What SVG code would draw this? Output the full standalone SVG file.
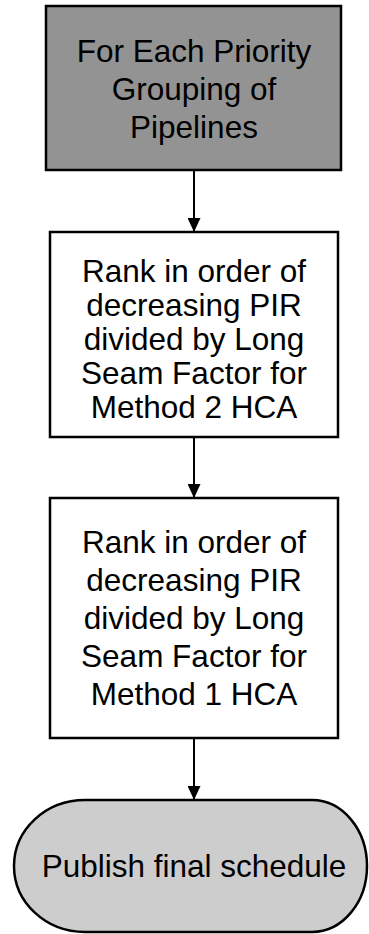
<svg xmlns="http://www.w3.org/2000/svg" width="369" height="934" viewBox="0 0 369 934">
  <style>
    .box { stroke: #000; stroke-width: 2.5; }
    .label { font-family: "Liberation Sans", Arial, sans-serif; font-size: 31.5px; fill: #000; text-anchor: middle; }
    .edge { stroke: #000; stroke-width: 2; fill: none; marker-end: url(#arrow); }
  </style>
  <defs>
    <marker id="arrow" viewBox="0 0 14 13" refX="14" refY="6.5" markerWidth="14" markerHeight="13" markerUnits="userSpaceOnUse" orient="auto">
      <path d="M0,0 L14,6.5 L0,13 Z" fill="#000"/>
    </marker>
  </defs>
  <rect width="369" height="934" fill="#fff"/>

  <g id="connectors">
    <line class="edge" x1="194" y1="170" x2="194" y2="232"/>
    <line class="edge" x1="194" y1="437" x2="194" y2="498"/>
    <line class="edge" x1="194" y1="738" x2="194" y2="800"/>
  </g>

  <g id="node-start">
    <rect class="box" x="46" y="6" width="295" height="164" fill="#939393"/>
    <text class="label" x="194" y="62">For Each Priority</text>
    <text class="label" x="194" y="100">Grouping of</text>
    <text class="label" x="194" y="138">Pipelines</text>
  </g>

  <g id="node-rank-method2">
    <rect class="box" x="50" y="232" width="288" height="205" fill="#fff"/>
    <text class="label" x="194" y="282">Rank in order of</text>
    <text class="label" x="194" y="316">decreasing PIR</text>
    <text class="label" x="194" y="350">divided by Long</text>
    <text class="label" x="194" y="384">Seam Factor for</text>
    <text class="label" x="194" y="418">Method 2 HCA</text>
  </g>

  <g id="node-rank-method1">
    <rect class="box" x="50" y="498" width="288" height="240" fill="#fff"/>
    <text class="label" x="194" y="553">Rank in order of</text>
    <text class="label" x="194" y="591">decreasing PIR</text>
    <text class="label" x="194" y="629">divided by Long</text>
    <text class="label" x="194" y="667">Seam Factor for</text>
    <text class="label" x="194" y="705">Method 1 HCA</text>
  </g>

  <g id="node-publish">
    <path class="box" d="M85,800 H312 A55,66 0 0 1 312,932 H85 A71,66 0 0 1 85,800 Z" fill="#cdcdcd"/>
    <text class="label" x="194" y="877">Publish final schedule</text>
  </g>
</svg>
